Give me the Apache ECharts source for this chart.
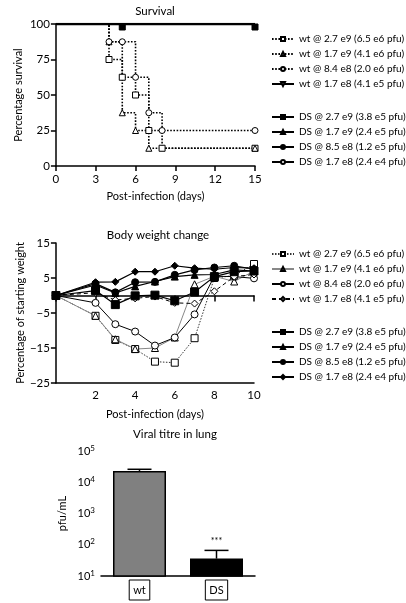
<!DOCTYPE html>
<html><head><meta charset="utf-8">
<script src="https://cdn.jsdelivr.net/npm/echarts@6/dist/echarts.min.js"></script>
<style>html,body{margin:0;padding:0;background:#fff}#c{width:406px;height:603px}</style>
</head><body><div id="c"></div>
<script>
// ---------- Survival (Kaplan-Meier) ----------
const survTicks = [0, 3, 6, 9, 12, 15];
const survWt27e9Days = [0, 4, 5, 6, 7, 8, 15];
const survWt27e9 = [100, 75, 62.5, 50, 25, 12.5, 12.5];
const survWt17e9Days = [0, 4, 5, 6, 7, 15];
const survWt17e9 = [100, 87.5, 37.5, 25, 12.5, 12.5];
const survWt84e8Days = [0, 4, 5, 6, 7, 8, 15];
const survWt84e8 = [100, 87.5, 87.5, 62.5, 37.5, 25, 25];
const survFlatDays = [0, 15];
const survFlat = [100, 100];
const survDS27e9Days = [0, 5, 15];
const survDS27e9 = [100, 100, 100];

// ---------- Body weight ----------
const bwDays = [0, 2, 3, 4, 5, 6, 7, 8, 9, 10];
const bwWt27e9 = [0, -5.8, -12.7, -15.3, -18.9, -19.2, -12.2, 5.0, 5.7, 9.0];
const bwWt17e9 = [0, -5.8, -12.5, -15.3, -15.0, -12.0, 3.2, 5.5, 4.0, 7.0];
const bwWt84e8 = [0, -2.1, -8.2, -10.3, -14.3, -12.0, -5.4, 5.5, 5.4, 4.9];
const bwWt17e8 = [0, 0.8, -1.3, -0.8, -0.3, -2.1, -2.3, 1.2, 5.4, 6.0];
const bwDS27e9 = [0, 1.4, -2.6, -0.1, 0.1, -1.5, 1.0, 5.4, 6.8, 7.0];
const bwDS17e9 = [0, 3.0, 0.7, 2.6, 4.0, 5.4, 5.9, 6.0, 7.3, 7.0];
const bwDS85e8 = [0, 3.4, 0.9, 3.8, 3.9, 5.9, 7.3, 8.0, 8.5, 7.5];
const bwDS17e8 = [0, 3.8, 3.9, 6.8, 6.8, 8.5, 7.8, 7.5, 8.0, 7.8];

// ---------- Viral titre ----------
const titreCats = ['wt', 'DS'];
const titreMean = [23000, 36];
const titreErrTop = [26000, 66];
const titreSig = ['', '***'];

const wtNames = ['wt @ 2.7 e9 (6.5 e6 pfu)', 'wt @ 1.7 e9 (4.1 e6 pfu)', 'wt @ 8.4 e8 (2.0 e6 pfu)', 'wt @ 1.7 e8 (4.1 e5 pfu)'];
const dsSurvNames = ['DS @ 2.7 e9 (3.8 e5 pfu)', 'DS @ 1.7 e9 (2.4 e5 pfu)', 'DS @ 8.5 e8 (1.2 e5 pfu)', 'DS @ 1.7 e8 (2.4 e4 pfu)'];

const FONT = 'Lato';
const zip = (xs, ys) => xs.map((x, i) => [x, ys[i]]);
const openStyle = {color: '#fff', borderColor: '#000', borderWidth: 1};
const fillStyle = {color: '#000', borderColor: '#000', borderWidth: 1};
const minus = v => String(v).replace('-', '\u2212');

function survPts(xs, ys) {
  return zip(xs, ys).map((p, i) => i === 0 ? {value: p, symbol: 'none'} : p);
}
function noSym(xs, ys) {
  return zip(xs, ys).map(p => ({value: p, symbol: 'none'}));
}

const axisLineStyle = {color: '#000', width: 1.5};
const labelStyle = {color: '#000', fontFamily: FONT, fontSize: 11.5};
const nameStyle = {fontFamily: FONT, fontSize: 11, color: '#000'};
const titleStyle = {fontFamily: FONT, fontSize: 11.5, fontWeight: 'normal', color: '#000'};

const series = [];
const dotted = {color: '#000', width: 1.6, type: [1.6, 1.6]};
series.push({name: wtNames[0], type: 'line', xAxisIndex: 0, yAxisIndex: 0, step: 'end', data: survPts(survWt27e9Days, survWt27e9),
  symbol: 'rect', symbolSize: 6, itemStyle: openStyle, lineStyle: dotted, z: 5});
series.push({name: wtNames[1], type: 'line', xAxisIndex: 0, yAxisIndex: 0, step: 'end', data: survPts(survWt17e9Days, survWt17e9),
  symbol: 'triangle', symbolSize: 6, itemStyle: openStyle, lineStyle: dotted, z: 5});
series.push({name: wtNames[2], type: 'line', xAxisIndex: 0, yAxisIndex: 0, step: 'end', data: survPts(survWt84e8Days, survWt84e8),
  symbol: 'circle', symbolSize: 6, itemStyle: openStyle, lineStyle: dotted, z: 5});
series.push({name: wtNames[3], type: 'line', xAxisIndex: 0, yAxisIndex: 0, step: 'end', data: noSym(survFlatDays, survFlat),
  symbol: 'triangle', symbolRotate: 180, symbolSize: 6, itemStyle: openStyle, lineStyle: {color: '#000', width: 1.2}, z: 4});
series.push({name: dsSurvNames[0], type: 'line', xAxisIndex: 0, yAxisIndex: 0, step: 'end', data: survPts(survDS27e9Days, survDS27e9),
  symbol: 'rect', symbolSize: 6, symbolOffset: [0, 3], itemStyle: fillStyle, lineStyle: {color: '#000', width: 2.6}, z: 4});
series.push({name: dsSurvNames[1], type: 'line', xAxisIndex: 0, yAxisIndex: 0, step: 'end', data: noSym(survFlatDays, survFlat),
  symbol: 'triangle', symbolSize: 6, itemStyle: fillStyle, lineStyle: {color: '#000', width: 1.2}, z: 4});
series.push({name: dsSurvNames[2], type: 'line', xAxisIndex: 0, yAxisIndex: 0, step: 'end', data: noSym(survFlatDays, survFlat),
  symbol: 'circle', symbolSize: 6, itemStyle: fillStyle, lineStyle: {color: '#000', width: 1.2}, z: 4});
series.push({name: dsSurvNames[3], type: 'line', xAxisIndex: 0, yAxisIndex: 0, step: 'end', data: noSym(survFlatDays, survFlat),
  symbol: 'circle', symbolSize: 6, itemStyle: openStyle, lineStyle: {color: '#000', width: 1.2}, z: 4});

// body weight (names with trailing space to keep legends separate)
const bwDefs = [
  [wtNames[0] + ' ', bwWt27e9, 'rect', openStyle, {color: '#333', width: 1, type: [1.5, 1.5]}],
  [wtNames[1] + ' ', bwWt17e9, 'triangle', openStyle, {color: '#888', width: 1}],
  [wtNames[2] + ' ', bwWt84e8, 'circle', openStyle, {color: '#000', width: 1}],
  [wtNames[3] + ' ', bwWt17e8, 'diamond', openStyle, {color: '#000', width: 1, type: [4, 3]}],
  [dsSurvNames[0] + ' ', bwDS27e9, 'rect', fillStyle, {color: '#000', width: 1.2}],
  [dsSurvNames[1] + ' ', bwDS17e9, 'triangle', fillStyle, {color: '#000', width: 1.2}],
  [dsSurvNames[2] + ' ', bwDS85e8, 'circle', fillStyle, {color: '#000', width: 1.2}],
  [dsSurvNames[3] + ' ', bwDS17e8, 'diamond', fillStyle, {color: '#000', width: 1.2}]
];
bwDefs.forEach(d => series.push({name: d[0], type: 'line', xAxisIndex: 1, yAxisIndex: 1, data: zip(bwDays, d[1]),
  symbol: d[2], symbolSize: d[2] === 'rect' && d[3] === fillStyle ? 8 : 7, itemStyle: d[3], lineStyle: d[4], z: 5}));

// viral titre
series.push({name: 'titre', type: 'bar', xAxisIndex: 3, yAxisIndex: 2, barWidth: 53, clip: true,
  data: titreMean.map((v, i) => ({value: v, itemStyle: {color: i === 0 ? '#808080' : '#000', borderColor: '#000', borderWidth: 1.5}})), z: 3});
series.push({name: 'err', type: 'custom', xAxisIndex: 3, yAxisIndex: 2, z: 4,
  data: titreCats.map((c, i) => [i, titreMean[i], titreErrTop[i]]),
  renderItem: function (params, api) {
    const b = api.coord([api.value(0), api.value(1)]);
    const t = api.coord([api.value(0), api.value(2)]);
    const sig = titreSig[params.dataIndex];
    const ch = [
      {type: 'line', shape: {x1: b[0], y1: b[1], x2: t[0], y2: t[1]}, style: {stroke: '#000', lineWidth: 1.5}},
      {type: 'line', shape: {x1: t[0] - 12, y1: t[1], x2: t[0] + 12, y2: t[1]}, style: {stroke: '#000', lineWidth: 1.5}}
    ];
    if (sig) ch.push({type: 'text', style: {text: sig, x: t[0], y: t[1] - 9, align: 'center', verticalAlign: 'middle', fontSize: 9, fill: '#000', fontFamily: FONT}});
    return {type: 'group', children: ch};
  }});

const legendBase = {orient: 'vertical', left: 266, itemWidth: 22, itemHeight: 5, itemGap: 3, itemTextGap: 3, selectedMode: false,
  textStyle: {fontFamily: FONT, fontSize: 10, color: '#000', lineHeight: 12}, formatter: n => n.trim()};

const option = {
  backgroundColor: '#fff',
  animation: false,
  title: [
    {text: 'Survival', left: 150, top: 0, textAlign: 'center', textStyle: titleStyle},
    {text: 'Body weight change', left: 153, top: 224, textAlign: 'center', textStyle: titleStyle},
    {text: 'Viral titre in lung', left: 170, top: 423, textAlign: 'center', textStyle: titleStyle}
  ],
  legend: [
    Object.assign({}, legendBase, {top: 28, data: wtNames}),
    Object.assign({}, legendBase, {top: 106, data: dsSurvNames}),
    Object.assign({}, legendBase, {top: 243, data: wtNames.map(n => n + ' ')}),
    Object.assign({}, legendBase, {top: 321, data: dsSurvNames.map(n => n + ' ')})
  ],
  grid: [
    {left: 46, top: 24, width: 209, height: 142},
    {left: 42, top: 243, width: 212, height: 140},
    {left: 101, top: 451, width: 154, height: 125}
  ],
  xAxis: [
    {type: 'value', gridIndex: 0, min: 0, max: 15, interval: 3, splitLine: {show: false},
      axisLine: {onZero: false, lineStyle: axisLineStyle}, axisTick: {length: 5, lineStyle: axisLineStyle},
      axisLabel: Object.assign({margin: 7}, labelStyle),
      name: 'Post-infection (days)', nameLocation: 'middle', nameGap: 25, nameTextStyle: nameStyle},
    {type: 'value', gridIndex: 1, min: 0, max: 10, interval: 2, splitLine: {show: false},
      axisLine: {onZero: false, lineStyle: axisLineStyle}, axisTick: {show: false},
      axisLabel: Object.assign({margin: 6, formatter: v => v === 0 ? '' : v}, labelStyle),
      name: 'Post-infection (days)', nameLocation: 'middle', nameGap: 26, nameTextStyle: nameStyle},
    {type: 'value', gridIndex: 1, min: 0, max: 10, interval: 2, position: 'bottom', splitLine: {show: false},
      axisLine: {onZero: true, lineStyle: axisLineStyle}, axisTick: {length: 6, lineStyle: axisLineStyle},
      axisLabel: {show: false}},
    {type: 'category', gridIndex: 2, data: titreCats,
      axisLine: {lineStyle: axisLineStyle}, axisTick: {show: false},
      axisLabel: {color: '#000', fontFamily: FONT, fontSize: 11, margin: 4, borderColor: '#000', borderWidth: 1, padding: [5, 4, 4, 4]}}
  ],
  yAxis: [
    {type: 'value', gridIndex: 0, min: 0, max: 100, interval: 25, splitLine: {show: false},
      axisLine: {lineStyle: axisLineStyle}, axisTick: {length: 5, lineStyle: axisLineStyle},
      axisLabel: Object.assign({margin: 6}, labelStyle),
      name: 'Percentage survival', nameLocation: 'middle', nameGap: 32, nameTextStyle: nameStyle},
    {type: 'value', gridIndex: 1, min: -25, max: 15, interval: 10, splitLine: {show: false},
      axisLine: {onZero: false, lineStyle: axisLineStyle}, axisTick: {length: 5, lineStyle: axisLineStyle},
      axisLabel: Object.assign({margin: 6, formatter: minus}, labelStyle),
      name: 'Percentage of starting weight', nameLocation: 'middle', nameGap: 30, nameTextStyle: nameStyle},
    {type: 'log', gridIndex: 2, logBase: 10, min: 10, max: 100000, splitLine: {show: false},
      axisLine: {lineStyle: axisLineStyle}, axisTick: {length: 5, lineStyle: axisLineStyle},
      axisLabel: {margin: 6, color: '#000', fontFamily: FONT, fontSize: 11,
        formatter: v => '{b|10}{s|' + Math.round(Math.log10(v)) + '}',
        rich: {b: {fontFamily: FONT, fontSize: 11, color: '#000'}, s: {fontFamily: FONT, fontSize: 8, color: '#000', verticalAlign: 'top', padding: [0, 0, 6, 0]}}},
      name: 'pfu/mL', nameLocation: 'middle', nameGap: 33, nameTextStyle: nameStyle}
  ],
  series: series
};
const chart = echarts.init(document.getElementById('c'), null, {renderer: 'canvas'});
chart.setOption(option);
</script></body></html>
